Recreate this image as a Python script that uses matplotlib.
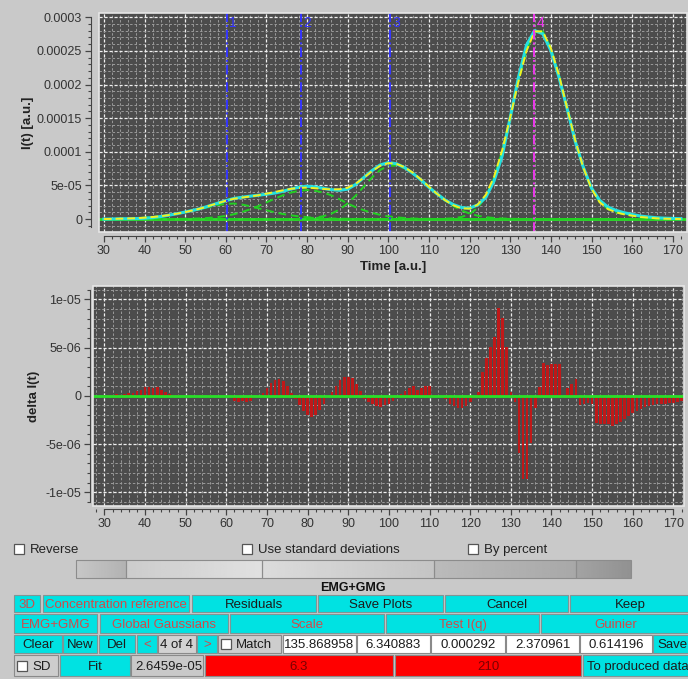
import numpy as np
import matplotlib.pyplot as plt
from matplotlib.patches import Rectangle
from matplotlib.ticker import MultipleLocator, FixedLocator, FixedFormatter

plt.rcParams['font.family'] = ['Liberation Sans', 'DejaVu Sans']

# ---- data ----
# time grid of the fitted curves, every 2 a.u.
t = np.arange(30, 173, 2)

# fitted components, units of 1e-5
comp_a = [0, 0.02, 0.05, 0.08, 0.12, 0.2, 0.3, 0.42, 0.58, 0.78,
          1.0, 1.25, 1.5, 1.8, 2.05, 2.25, 2.3, 2.15, 1.9, 1.6,
          1.3, 1.0, 0.75, 0.55, 0.4, 0.28, 0.18, 0.12, 0.08, 0.05,
          0.03, 0.02, 0.01, 0, 0, 0, 0, 0, 0, 0,
          0, 0, 0, 0, 0, 0, 0, 0, 0, 0,
          0, 0, 0, 0, 0, 0, 0, 0, 0, 0,
          0, 0, 0, 0, 0, 0, 0, 0, 0, 0,
          0, 0]
comp_b = [0, 0, 0, 0, 0, 0, 0, 0, 0.01, 0.02,
          0.03, 0.06, 0.1, 0.18, 0.29, 0.47, 0.71, 1.04, 1.45, 1.93,
          2.47, 3.01, 3.52, 3.93, 4.2, 4.3, 4.2, 3.93, 3.52, 2.95,
          2.3, 1.75, 1.3, 0.92, 0.62, 0.4, 0.25, 0.15, 0.08, 0.04,
          0.02, 0.01, 0, 0, 0, 0, 0, 0, 0, 0,
          0, 0, 0, 0, 0, 0, 0, 0, 0, 0,
          0, 0, 0, 0, 0, 0, 0, 0, 0, 0,
          0, 0]
comp_c = [0, 0, 0, 0, 0, 0, 0, 0, 0, 0,
          0, 0, 0, 0, 0, 0, 0, 0, 0, 0,
          0, 0, 0, 0, 0.03, 0.09, 0.2, 0.42, 0.8, 1.43,
          2.32, 3.5, 4.85, 6.2, 7.3, 7.92, 7.95, 7.56, 6.83, 5.87,
          4.79, 3.72, 2.75, 1.93, 1.28, 0.81, 0.49, 0.28, 0.15, 0.08,
          0.04, 0.02, 0, 0, 0, 0, 0, 0, 0, 0,
          0, 0, 0, 0, 0, 0, 0, 0, 0, 0,
          0, 0]
comp_d = [0, 0, 0, 0, 0, 0, 0, 0, 0, 0,
          0, 0, 0, 0, 0, 0, 0, 0, 0, 0,
          0, 0, 0, 0, 0, 0, 0, 0, 0, 0,
          0, 0, 0, 0, 0, 0, 0, 0, 0, 0,
          0, 0.01, 0.04, 0.11, 0.3, 0.74, 1.65, 3.33, 6.1, 10.1,
          15.1, 20.4, 25.0, 27.9, 27.9, 25.4, 21.4, 16.5, 11.7, 7.6,
          4.5, 2.5, 1.5, 1.0, 0.7, 0.5, 0.3, 0.2, 0.1, 0.05,
          0.02, 0]

# residuals, one per time unit, units of 1e-6
res_t = np.arange(30, 173)
resid = [0.1, 0.1, 0.1, 0.2, 0.1, 0.2, 0.3, 0.3, 0.5, 0.6,
         0.9, 0.9, 0.8, 0.9, 0.6, 0.4, 0.2, 0.1, 0.1, 0.0,
         -0.1, 0.0, 0.0, -0.1, 0.1, 0.0, 0.1, 0.0, -0.1, 0.0,
         0.0, -0.2, -0.5, -0.6, -0.5, -0.6, -0.5, -0.2, 0.0, 0.3,
         0.8, 1.3, 1.6, 1.7, 1.5, 1.0, 0.3, -0.3, -1.0, -1.6,
         -2.0, -2.2, -2.0, -1.5, -0.9, -0.2, 0.4, 1.0, 1.6, 1.9,
         2.0, 1.8, 1.2, 0.5, -0.3, -0.6, -0.9, -1.1, -1.2, -1.0,
         -0.8, -0.5, -0.2, 0.2, 0.5, 0.8, 1.0, 0.6, 0.8, 1.0,
         1.0, 0.1, 0.0, -0.1, -0.3, -0.8, -1.1, -1.3, -1.3, -1.1,
         -0.6, -0.2, 0.4, 2.5, 3.9, 5.1, 6.1, 9.1, 8.1, 5.1,
         0.4, -0.6, -5.9, -8.6, -8.6, -4.9, -1.3, 0.9, 3.4, 3.2,
         3.3, 3.3, 3.3, 0.0, 0.8, 1.2, 1.7, -1.0, -0.8, -0.7,
         -0.9, -2.8, -2.9, -2.9, -2.9, -3.1, -2.9, -2.7, -2.4, -2.1,
         -1.8, -1.6, -1.4, -1.2, -1.1, -1.0, -0.9, -0.8, -0.8, -0.7,
         -0.7, -0.6, -0.5]

peak_marks = [60.3, 78.4, 100.3, 135.9]
peak_names = ['1', '2', '3', '4']
peak_colors = ['#3434ff', '#3434ff', '#3434ff', '#ee38ee']

top_xticks = [30, 40, 50, 60, 70, 80, 90, 100, 110, 120, 130, 140, 150, 160, 170]
top_yticks = [0, 5e-5, 1e-4, 1.5e-4, 2e-4, 2.5e-4, 3e-4]
top_ylabels = ['0', '5e-05', '0.0001', '0.00015', '0.0002', '0.00025', '0.0003']
bot_yticks = [-1e-5, -5e-6, 0, 5e-6, 1e-5]
bot_ylabels = ['-1e-05', '-5e-06', '0', '5e-06', '1e-05']

comps = [np.array(c) * 1e-5 for c in (comp_a, comp_b, comp_c, comp_d)]
fit = sum(comps)
measured = fit - np.array(resid[::2]) * 1e-6

# ---- figure ----
BG = '#c9c9c9'
PLOT_BG = '#4c4c4c'
W, H = 688, 679
fig = plt.figure(figsize=(6.88, 6.79), dpi=100)
fig.patch.set_facecolor(BG)

# widget layer in pixel coordinates
g = fig.add_axes([0, 0, 1, 1])
g.set_xlim(0, W)
g.set_ylim(H, 0)
g.axis('off')


def style_axes(ax, xlim, ylim, left_out, bottom_out, ybounds, yminor):
    ax.set_facecolor(PLOT_BG)
    ax.set_xlim(*xlim)
    ax.set_ylim(*ylim)
    ax.set_axisbelow(True)
    for s in ('top', 'right'):
        ax.spines[s].set_visible(False)
    ax.spines['left'].set_position(('outward', left_out))
    ax.spines['bottom'].set_position(('outward', bottom_out))
    ax.spines['left'].set_bounds(*ybounds)
    ax.spines['bottom'].set_bounds(30, 170)
    for s in ('left', 'bottom'):
        ax.spines[s].set_color('#444444')
    ax.add_patch(Rectangle((0, 0), 1, 1, transform=ax.transAxes, fill=False,
                           edgecolor='#e6e6e6', lw=1.2, clip_on=False, zorder=5))
    ax.xaxis.set_major_locator(FixedLocator(top_xticks))
    ax.xaxis.set_minor_locator(MultipleLocator(2))
    ax.yaxis.set_minor_locator(MultipleLocator(yminor))
    ax.tick_params(which='major', direction='out', length=4.3, width=0.9,
                   color='#444444', labelcolor='#333333', labelsize=9, pad=2)
    ax.tick_params(which='minor', direction='out', length=2.2, width=0.8,
                   color='#444444')
    ax.grid(which='major', color='#f0f0f0', ls=(0, (2.5, 1.5)), lw=0.9)
    ax.grid(which='minor', color='#9a9a9a', ls=(0, (2.5, 2)), lw=0.7)


# ---- top panel: intensity ----
ax1 = fig.add_axes([99 / W, 1 - 232 / H, 588 / W, 219 / H])
style_axes(ax1, (28.8, 173.5), (-1.93e-5, 3.064e-4), 5.8, 2.9,
           (-1.2e-5, 3e-4), 1e-5)
ax1.yaxis.set_major_locator(FixedLocator(top_yticks))
ax1.yaxis.set_major_formatter(FixedFormatter(top_ylabels))
ax1.set_xlabel('Time [a.u.]', fontsize=9.5, fontweight='bold', color='#222222',
               labelpad=3)
ax1.set_ylabel('I(t) [a.u.]', fontsize=9.5, fontweight='bold', color='#222222')
ax1.yaxis.set_label_coords(-0.11, 0.5)

ax1.axhline(0, color='#28e028', lw=2, zorder=2)
for c in comps:
    ax1.plot(t, c, color='#22d022', lw=1.4, ls=(0, (4, 2.5)), zorder=3)
ax1.plot(t, measured, color='#22e0e0', lw=2.2, zorder=4)
ax1.plot(t, fit, color='#f2f020', lw=1.4, ls=(0, (4, 2)), zorder=4)
for x, name, col in zip(peak_marks, peak_names, peak_colors):
    ax1.axvline(x, color=col, lw=1.4, ls=(0, (5, 1.5, 1, 1.5)), zorder=4)
    ax1.text(x + 0.6, 2.91e-4, name, color=col, fontsize=10, va='center',
             ha='left', zorder=6)

# ---- bottom panel: residuals ----
ax2 = fig.add_axes([93 / W, 1 - 506 / H, 591 / W, 220 / H])
style_axes(ax2, (27.2, 172.6), (-1.142e-5, 1.138e-5), 2.2, 2.2,
           (-1.1e-5, 1.1e-5), 1e-6)
ax2.yaxis.set_major_locator(FixedLocator(bot_yticks))
ax2.yaxis.set_major_formatter(FixedFormatter(bot_ylabels))
ax2.set_ylabel('delta I(t)', fontsize=9.5, fontweight='bold', color='#222222')
ax2.yaxis.set_label_coords(-0.09, 0.5)
ax2.bar(res_t, np.array(resid) * 1e-6, width=0.65, color='#c01818', zorder=3)
ax2.axhline(0, color='#28e028', lw=2, zorder=4)

# ---- widgets under the plots ----
CYAN = '#00e2e2'
RED_TXT = '#d24a4a'


def checkbox(x, y):
    g.add_patch(Rectangle((x, y - 5), 10, 10, facecolor='white',
                          edgecolor='#555555', lw=0.9))


for x, label in [(14, 'Reverse'), (242, 'Use standard deviations'),
                 (468, 'By percent')]:
    checkbox(x, 549)
    g.text(x + 16, 550, label, fontsize=9.5, va='center', ha='left',
           color='#222222')

# shaded progress strip
for x0, x1, c0, c1 in [(76, 126, 0.78, 0.70), (126, 262, 0.80, 0.88),
                       (262, 434, 0.86, 0.77), (434, 576, 0.73, 0.66),
                       (576, 631, 0.64, 0.57)]:
    shade = np.linspace(c0, c1, 64).reshape(1, -1)
    g.imshow(shade, cmap='gray', vmin=0, vmax=1, aspect='auto',
             extent=(x0, x1, 578, 560), zorder=1)
    g.add_patch(Rectangle((x0, 560), x1 - x0, 18, fill=False,
                          edgecolor='#8c8c8c', lw=0.8, zorder=2))
g.set_xlim(0, W)
g.set_ylim(H, 0)
g.text(353, 588, 'EMG+GMG', fontsize=9, fontweight='bold', ha='center',
       va='center', color='#111111')

widgets = [
    (14, 595, 40, 612, '3D', 'btnred'),
    (43, 595, 189, 612, 'Concentration reference', 'btnred'),
    (192, 595, 316, 612, 'Residuals', 'btn'),
    (318, 595, 443, 612, 'Save Plots', 'btn'),
    (445, 595, 568, 612, 'Cancel', 'btn'),
    (570, 595, 690, 612, 'Keep', 'btn'),
    (14, 614, 97, 633, 'EMG+GMG', 'btnred'),
    (100, 614, 228, 633, 'Global Gaussians', 'btnred'),
    (230, 614, 384, 633, 'Scale', 'btnred'),
    (386, 614, 539, 633, 'Test I(q)', 'btnred'),
    (541, 614, 690, 633, 'Guinier', 'btnred'),
    (14, 635, 62, 653, 'Clear', 'btn'),
    (63, 635, 97, 653, 'New', 'btn'),
    (99, 635, 135, 653, 'Del', 'btn'),
    (137, 635, 157, 653, '<', 'btnred'),
    (158, 635, 196, 653, '4 of 4', 'plain'),
    (197, 635, 217, 653, '>', 'btnred'),
    (218, 635, 281, 653, 'Match', 'check'),
    (283, 635, 356, 653, '135.868958', 'field'),
    (357, 635, 430, 653, '6.340883', 'field'),
    (431, 635, 505, 653, '0.000292', 'field'),
    (506, 635, 579, 653, '2.370961', 'field'),
    (580, 635, 652, 653, '0.614196', 'field'),
    (653, 635, 690, 653, 'Save', 'btnleft'),
    (14, 655, 58, 676, 'SD', 'check'),
    (60, 655, 130, 676, 'Fit', 'btn'),
    (131, 655, 203, 676, '2.6459e-05', 'plainleft'),
    (205, 655, 393, 676, '6.3', 'red'),
    (395, 655, 581, 676, '210', 'red'),
    (583, 655, 690, 676, 'To produced data', 'btnleft'),
]

for x0, y0, x1, y1, label, kind in widgets:
    face = {'btn': CYAN, 'btnred': CYAN, 'btnleft': CYAN, 'field': 'white',
            'red': '#ff0000', 'plain': '#d2d2d2', 'plainleft': BG,
            'check': '#cdcdcd'}[kind]
    color = {'btnred': RED_TXT, 'red': '#7a0000'}.get(kind, '#1c1c1c')
    g.add_patch(Rectangle((x0, y0), x1 - x0, y1 - y0, facecolor=face,
                          edgecolor='#7f9595' if face == CYAN else '#8a8a8a',
                          lw=0.8))
    ym = (y0 + y1) / 2 + 1.2
    if kind == 'check':
        checkbox(x0 + 3, ym - 1.2)
        g.text(x0 + 18, ym, label, fontsize=9.5, va='center', ha='left',
               color=color)
    elif kind in ('btnleft', 'plainleft'):
        g.text(x0 + 4, ym, label, fontsize=9.5, va='center', ha='left',
               color=color)
    else:
        g.text((x0 + x1) / 2, ym, label, fontsize=9.5, va='center',
               ha='center', color=color)

fig.savefig('out.png', dpi=100, facecolor=BG)
